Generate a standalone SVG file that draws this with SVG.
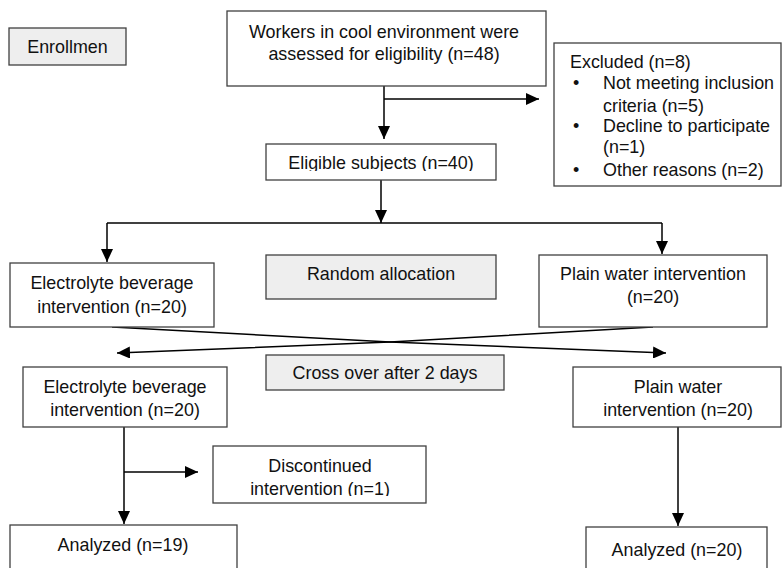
<svg xmlns="http://www.w3.org/2000/svg" width="782" height="568" viewBox="0 0 782 568">
<style>
.box{fill:#fff;stroke:#404040;stroke-width:1.3}
.gray{fill:#eeeeee;stroke:#404040;stroke-width:1.3}
text{font-family:"Liberation Sans",Arial,sans-serif;font-size:17.9px;fill:#111}
.c{text-anchor:middle}
.ln{fill:none;stroke:#000;stroke-width:1.5}
</style>
<defs>
<marker id="ah" markerUnits="userSpaceOnUse" markerWidth="14" markerHeight="12" refX="13" refY="6" orient="auto">
<path d="M0,0 L13,6 L0,12 z" fill="#000"/>
</marker>
<clipPath id="clipElig"><rect x="266" y="144" width="230" height="27"/></clipPath>
<clipPath id="clipDisc"><rect x="213" y="446" width="213" height="50"/></clipPath>
</defs>
<rect width="782" height="568" fill="#fff"/>

<g id="connectors">
<line class="ln" x1="384" y1="86" x2="384" y2="139" marker-end="url(#ah)"/>
<line class="ln" x1="384" y1="99" x2="539" y2="99" marker-end="url(#ah)"/>
<line class="ln" x1="381" y1="180" x2="381" y2="223" marker-end="url(#ah)"/>
<polyline class="ln" points="107,223 662,223"/>
<line class="ln" x1="107" y1="223" x2="107" y2="262" marker-end="url(#ah)"/>
<line class="ln" x1="662" y1="223" x2="662" y2="254" marker-end="url(#ah)"/>
<polyline class="ln" points="112,327 390,342 666,353" marker-end="url(#ah)"/>
<polyline class="ln" points="653,327 390,342 117,353" marker-end="url(#ah)"/>
<line class="ln" x1="124" y1="427" x2="124" y2="524" marker-end="url(#ah)"/>
<line class="ln" x1="124" y1="472" x2="198" y2="472" marker-end="url(#ah)"/>
<line class="ln" x1="678" y1="427" x2="678" y2="526" marker-end="url(#ah)"/>
</g>

<g id="enrollment">
<rect class="gray" x="9" y="28" width="117" height="37"/>
<text class="c" x="67.5" y="53">Enrollmen</text>
</g>

<g id="assessed">
<rect class="box" x="227" y="11" width="319" height="75"/>
<text class="c" x="384" y="38">Workers in cool environment were</text>
<text class="c" x="384" y="60">assessed for eligibility (n=48)</text>
</g>

<g id="excluded">
<rect class="box" x="554" y="43" width="227" height="143"/>
<text x="570" y="68">Excluded (n=8)</text>
<text x="573" y="89">•</text>
<text x="603" y="89">Not meeting inclusion</text>
<text x="603" y="112">criteria (n=5)</text>
<text x="573" y="132">•</text>
<text x="603" y="132">Decline to participate</text>
<text x="603" y="153">(n=1)</text>
<text x="573" y="176">•</text>
<text x="603" y="176">Other reasons (n=2)</text>
</g>

<g id="eligible">
<rect class="box" x="266" y="144" width="230" height="36"/>
<text class="c" x="381" y="169" clip-path="url(#clipElig)">Eligible subjects (n=40)</text>
</g>

<g id="electrolyte1">
<rect class="box" x="10" y="263" width="204" height="64"/>
<text class="c" x="112" y="289">Electrolyte beverage</text>
<text class="c" x="112" y="313">intervention (n=20)</text>
</g>

<g id="random">
<rect class="gray" x="266" y="255" width="230" height="44"/>
<text class="c" x="381" y="280">Random allocation</text>
</g>

<g id="plain1">
<rect class="box" x="539" y="255" width="228" height="72"/>
<text class="c" x="653" y="280">Plain water intervention</text>
<text class="c" x="653" y="303">(n=20)</text>
</g>

<g id="crossover">
<rect class="gray" x="266" y="355" width="238" height="35"/>
<text class="c" x="385" y="379">Cross over after 2 days</text>
</g>

<g id="electrolyte2">
<rect class="box" x="23" y="367" width="204" height="60"/>
<text class="c" x="125" y="393">Electrolyte beverage</text>
<text class="c" x="125" y="416">intervention (n=20)</text>
</g>

<g id="plain2">
<rect class="box" x="573" y="367" width="208" height="60"/>
<text class="c" x="678" y="393">Plain water</text>
<text class="c" x="678" y="416">intervention (n=20)</text>
</g>

<g id="discontinued">
<rect class="box" x="213" y="446" width="213" height="57"/>
<text class="c" x="320" y="472">Discontinued</text>
<text class="c" x="320" y="495" clip-path="url(#clipDisc)">intervention (n=1)</text>
</g>

<g id="analyzed19">
<rect class="box" x="10" y="525" width="227" height="60"/>
<text class="c" x="123" y="551">Analyzed (n=19)</text>
</g>

<g id="analyzed20">
<rect class="box" x="586" y="527" width="181" height="60"/>
<text class="c" x="677" y="556">Analyzed (n=20)</text>
</g>
</svg>
